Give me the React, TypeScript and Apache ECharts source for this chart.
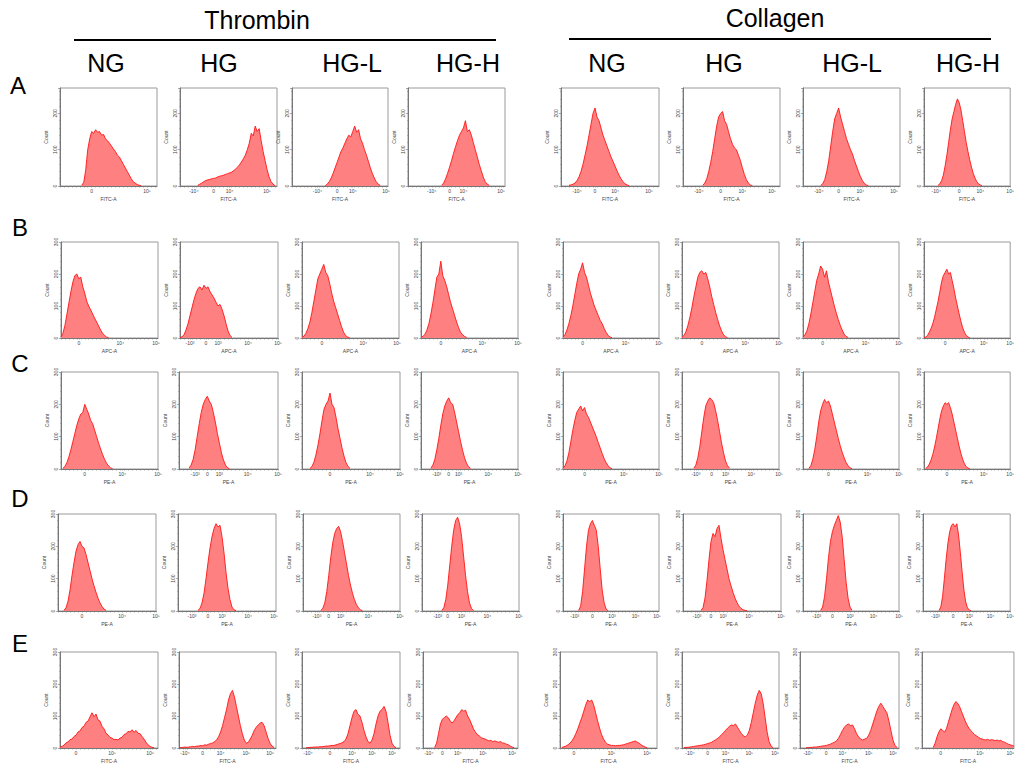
import React, { useEffect, useRef } from "react";
import * as echarts from "echarts";

const GROUPS = ["Thrombin", "Collagen"];
const CONDITIONS = ["NG", "HG", "HG-L", "HG-H"];
const ROW_LETTERS = ["A", "B", "C", "D", "E"];
const CHANNELS = ["FITC-A", "APC-A", "PE-A", "PE-A", "FITC-A"];
const BIN_COUNT = 50;
const Y_MAX = [270, 300, 300, 300, 300];

// histogram counts per panel: [first bin, counts...]
const HIST_A: [number, number[]][] = [
  [11, [2, 10, 45, 100, 130, 150, 145, 155, 148, 150, 140, 142, 130, 125, 118, 110, 102, 95, 85, 80, 70, 60, 50, 40, 30, 20, 12, 8, 4, 2, 1]],
  [9, [2, 5, 8, 12, 15, 17, 18, 20, 21, 22, 25, 27, 28, 30, 32, 34, 36, 38, 42, 46, 52, 58, 66, 75, 85, 100, 118, 145, 138, 165, 150, 158, 125, 95, 70, 45, 25, 12, 5, 1]],
  [17, [1, 5, 12, 22, 35, 50, 65, 80, 95, 105, 118, 130, 140, 135, 150, 165, 148, 155, 130, 118, 100, 85, 68, 50, 35, 22, 12, 5, 2]],
  [17, [2, 8, 20, 35, 52, 70, 90, 108, 125, 140, 150, 160, 180, 150, 155, 140, 120, 100, 80, 60, 42, 25, 12, 5, 2]],
  [4, [2, 3, 5, 8, 15, 25, 40, 60, 85, 110, 140, 170, 200, 215, 190, 180, 160, 140, 125, 110, 95, 80, 68, 55, 42, 30, 20, 12, 6, 3, 1]],
  [10, [2, 8, 20, 40, 65, 95, 130, 165, 190, 200, 205, 180, 170, 150, 130, 115, 105, 100, 85, 70, 50, 32, 18, 8, 3, 1]],
  [9, [2, 6, 18, 40, 70, 110, 150, 185, 200, 215, 190, 170, 150, 130, 115, 100, 88, 70, 55, 40, 26, 15, 7, 3, 1]],
  [8, [2, 6, 15, 30, 55, 85, 120, 155, 185, 205, 225, 240, 230, 210, 180, 150, 120, 95, 72, 52, 35, 22, 12, 6, 3, 1]],
];
const HIST_B: [number, number[]][] = [
  [0, [3, 15, 40, 75, 110, 145, 175, 195, 200, 185, 190, 160, 140, 115, 100, 88, 75, 62, 50, 38, 25, 15, 8, 3, 1]],
  [0, [1, 4, 10, 25, 45, 70, 95, 120, 140, 155, 160, 150, 165, 155, 160, 145, 135, 125, 112, 100, 105, 90, 70, 45, 22, 8, 2]],
  [0, [2, 6, 15, 30, 50, 80, 115, 150, 185, 200, 215, 230, 205, 195, 170, 140, 115, 95, 75, 55, 35, 18, 8, 3, 1]],
  [0, [2, 5, 12, 25, 45, 75, 110, 150, 190, 200, 240, 195, 180, 160, 135, 110, 90, 70, 50, 32, 18, 10, 5, 2]],
  [0, [3, 10, 25, 45, 70, 100, 135, 170, 200, 215, 235, 205, 190, 165, 140, 120, 100, 85, 70, 55, 45, 30, 18, 8, 3, 1]],
  [0, [2, 8, 20, 40, 65, 95, 130, 160, 190, 205, 210, 200, 205, 185, 160, 130, 105, 80, 58, 38, 22, 10, 4, 1]],
  [0, [3, 10, 22, 45, 75, 110, 145, 180, 200, 225, 215, 190, 210, 175, 150, 125, 100, 78, 58, 40, 25, 12, 5, 2]],
  [0, [1, 3, 8, 18, 30, 45, 65, 90, 115, 145, 175, 195, 205, 215, 200, 205, 180, 155, 125, 100, 75, 52, 32, 18, 8, 3, 1]],
];
const HIST_C: [number, number[]][] = [
  [1, [2, 8, 20, 38, 60, 85, 110, 135, 155, 170, 175, 200, 185, 170, 150, 140, 120, 100, 80, 62, 45, 30, 18, 10, 4, 1]],
  [5, [3, 12, 30, 60, 100, 140, 175, 200, 215, 225, 210, 200, 175, 145, 110, 80, 50, 28, 12, 4, 1]],
  [4, [2, 8, 22, 45, 75, 110, 150, 185, 200, 210, 235, 200, 190, 160, 125, 95, 65, 40, 20, 8, 2]],
  [5, [3, 12, 30, 60, 95, 135, 170, 195, 210, 220, 205, 200, 175, 145, 115, 85, 58, 35, 18, 7, 2]],
  [0, [2, 10, 25, 50, 85, 120, 150, 175, 185, 195, 180, 190, 170, 160, 145, 130, 115, 100, 82, 65, 48, 32, 20, 10, 4, 1]],
  [6, [3, 12, 35, 70, 115, 160, 195, 210, 220, 215, 205, 180, 150, 115, 80, 50, 25, 10, 3]],
  [3, [2, 10, 30, 60, 100, 145, 180, 200, 215, 205, 210, 195, 170, 145, 120, 95, 72, 52, 35, 20, 10, 4, 1]],
  [1, [2, 6, 15, 28, 45, 68, 95, 125, 155, 180, 195, 205, 200, 205, 190, 170, 145, 120, 95, 70, 48, 30, 16, 7, 3, 1]],
];
const HIST_D: [number, number[]][] = [
  [3, [2, 10, 30, 65, 110, 150, 185, 205, 215, 200, 195, 175, 150, 125, 100, 78, 58, 40, 25, 14, 6, 2]],
  [10, [2, 8, 25, 55, 100, 150, 195, 230, 255, 270, 260, 265, 230, 180, 120, 70, 35, 12, 4, 1]],
  [9, [2, 8, 25, 60, 110, 165, 210, 240, 255, 262, 245, 215, 180, 145, 110, 80, 55, 35, 20, 10, 4, 1]],
  [10, [2, 10, 35, 80, 140, 200, 250, 280, 290, 270, 230, 170, 110, 60, 25, 8, 2]],
  [8, [2, 15, 60, 130, 200, 250, 270, 280, 265, 250, 200, 130, 65, 25, 6, 1]],
  [9, [2, 10, 40, 95, 160, 215, 240, 230, 255, 265, 225, 190, 160, 130, 100, 78, 58, 40, 26, 15, 8, 4, 2, 1]],
  [9, [2, 12, 45, 100, 165, 215, 245, 265, 280, 295, 275, 230, 160, 90, 40, 12, 3]],
  [9, [2, 12, 45, 100, 160, 210, 245, 265, 270, 260, 270, 235, 180, 120, 65, 28, 10, 3, 1]],
];
const HIST_E: [number, number[]][] = [
  [0, [2, 5, 9, 16, 19, 26, 28, 36, 40, 50, 53, 64, 68, 80, 84, 97, 110, 98, 106, 88, 84, 68, 60, 46, 41, 33, 31, 26, 27, 25, 31, 33, 42, 44, 52, 50, 57, 49, 55, 46, 45, 36, 28, 18, 10, 5, 2, 1]],
  [0, [1, 1, 2, 3, 2, 3, 4, 5, 4, 6, 6, 8, 7, 10, 9, 12, 14, 16, 20, 25, 35, 50, 70, 95, 120, 150, 170, 180, 160, 130, 100, 70, 45, 25, 15, 18, 28, 40, 55, 65, 72, 78, 80, 70, 50, 30, 15, 6, 2]],
  [2, [1, 1, 2, 2, 3, 3, 3, 4, 4, 5, 6, 6, 7, 8, 8, 10, 12, 14, 16, 20, 28, 45, 70, 95, 115, 120, 105, 100, 80, 55, 35, 20, 15, 25, 45, 75, 100, 115, 120, 130, 115, 80, 40, 15, 5, 1]],
  [6, [2, 15, 45, 75, 90, 95, 100, 95, 85, 78, 85, 95, 105, 110, 120, 115, 118, 100, 90, 75, 60, 50, 42, 38, 32, 30, 28, 25, 22, 24, 20, 22, 20, 18, 20, 16, 15, 12, 10, 6, 3, 1]],
  [1, [2, 4, 6, 10, 15, 22, 32, 45, 60, 78, 95, 115, 135, 150, 145, 150, 135, 110, 85, 62, 42, 28, 18, 12, 10, 8, 8, 7, 8, 8, 9, 10, 12, 14, 16, 18, 20, 22, 18, 15, 10, 6, 3, 1]],
  [1, [1, 2, 2, 3, 4, 5, 6, 7, 8, 9, 10, 12, 14, 16, 18, 22, 26, 30, 35, 42, 48, 55, 62, 68, 72, 70, 75, 65, 55, 45, 38, 35, 40, 55, 80, 110, 140, 165, 180, 170, 140, 95, 50, 20, 6, 1]],
  [3, [1, 1, 2, 2, 3, 3, 4, 5, 6, 7, 8, 10, 12, 15, 18, 22, 30, 42, 55, 65, 72, 75, 70, 72, 60, 45, 35, 28, 25, 28, 30, 40, 55, 75, 95, 115, 130, 140, 130, 120, 110, 85, 55, 25, 8, 2]],
  [6, [2, 15, 35, 50, 60, 55, 50, 60, 80, 100, 120, 135, 145, 140, 130, 115, 100, 85, 72, 62, 55, 48, 42, 38, 34, 30, 28, 26, 25, 27, 24, 26, 25, 23, 25, 22, 24, 20, 18, 15, 12, 10, 8, 6]],
];

// x tick labels per panel: [bin, label]
const XLAB_A: [number, string][][] = [
  [[16, "0"], [44, "10⁵"]],
  [[7, "-10⁴"], [17, "0"], [25, "10⁴"], [44, "10⁵"]],
  [[13, "-10⁴"], [23, "0"], [31, "10⁴"], [48, "10⁵"]],
  [[12, "-10⁴"], [21, "0"], [28, "10⁴"], [47, "10⁵"]],
  [[8, "-10⁴"], [17, "0"], [27, "10⁴"], [44, "10⁵"]],
  [[8, "-10⁴"], [19, "0"], [30, "10⁴"], [45, "10⁵"]],
  [[8, "-10⁴"], [18, "0"], [29, "10⁴"], [46, "10⁵"]],
  [[7, "-10⁴"], [20, "0"], [32, "10⁴"], [49, "10⁵"]],
];
const XLAB_B: [number, string][][] = [
  [[9, "0"], [30, "10⁴"], [48, "10⁵"]],
  [[5, "-10³"], [13, "0"], [19, "10³"], [34, "10⁴"], [49, "10⁵"]],
  [[10, "0"], [31, "10⁴"], [48, "10⁵"]],
  [[10, "0"], [31, "10⁴"], [49, "10⁵"]],
  [[10, "0"], [32, "10⁴"], [49, "10⁵"]],
  [[10, "0"], [32, "10⁴"], [49, "10⁵"]],
  [[10, "0"], [32, "10⁴"], [49, "10⁵"]],
  [[12, "0"], [34, "10⁴"], [49, "10⁵"]],
];
const XLAB_C: [number, string][][] = [
  [[12, "0"], [31, "10⁴"], [49, "10⁵"]],
  [[8, "-10³"], [14, "0"], [20, "10³"], [34, "10⁴"], [49, "10⁵"]],
  [[14, "0"], [34, "10⁴"], [49, "10⁵"]],
  [[8, "-10³"], [14, "0"], [19, "10³"], [34, "10⁴"], [49, "10⁵"]],
  [[11, "0"], [31, "10⁴"], [49, "10⁵"]],
  [[7, "-10³"], [15, "0"], [22, "10³"], [35, "10⁴"], [49, "10⁵"]],
  [[13, "0"], [33, "10⁴"], [49, "10⁵"]],
  [[13, "0"], [34, "10⁴"], [49, "10⁵"]],
];
const XLAB_D: [number, string][][] = [
  [[12, "0"], [32, "10⁴"], [49, "10⁵"]],
  [[7, "-10³"], [15, "0"], [22, "10³"], [35, "10⁴"], [48, "10⁵"]],
  [[7, "-10³"], [13, "0"], [19, "10³"], [33, "10⁴"], [49, "10⁵"]],
  [[8, "-10³"], [13, "0"], [20, "10³"], [33, "10⁴"], [49, "10⁵"]],
  [[6, "-10³"], [15, "0"], [25, "10³"], [37, "10⁴"], [48, "10⁵"]],
  [[7, "-10³"], [14, "0"], [20, "10³"], [33, "10⁴"], [49, "10⁵"]],
  [[7, "-10³"], [15, "0"], [24, "10³"], [36, "10⁴"], [49, "10⁵"]],
  [[7, "-10³"], [17, "0"], [26, "10³"], [38, "10⁴"], [49, "10⁵"]],
];
const XLAB_E: [number, string][][] = [
  [[8, "0"], [26, "10⁵"], [45, "10⁶"]],
  [[3, "-10⁴"], [12, "0"], [21, "10⁴"], [34, "10⁵"], [46, "10⁶"]],
  [[3, "-10⁴"], [14, "0"], [25, "10⁴"], [35, "10⁵"], [45, "10⁶"]],
  [[3, "-10⁴"], [10, "0"], [18, "10⁴"], [31, "10⁵"], [46, "10⁶"]],
  [[7, "0"], [26, "10⁵"], [44, "10⁶"]],
  [[4, "-10⁴"], [13, "0"], [22, "10⁴"], [34, "10⁵"], [47, "10⁶"]],
  [[4, "-10⁴"], [13, "0"], [21, "10⁴"], [34, "10⁵"], [46, "10⁶"]],
  [[10, "0"], [31, "10⁵"], [47, "10⁶"]],
];

// layout (pixels)
const ROW_BOX = [[88, 186], [242, 338], [372, 469], [514, 611], [652, 748]];
const COL_BOX = [
  [[60, 157], [180, 277], [292, 388], [408, 505], [561, 659], [683, 780], [803, 900], [924, 1014]],
  [[61, 158], [180, 278], [302, 399], [421, 518], [563, 659], [682, 779], [803, 899], [924, 1014]],
  [[61, 158], [179, 278], [302, 400], [421, 518], [563, 659], [682, 779], [803, 899], [924, 1014]],
  [[58, 156], [178, 276], [303, 400], [422, 519], [563, 659], [683, 781], [803, 899], [923, 1014]],
  [[60, 158], [179, 276], [302, 400], [423, 518], [560, 657], [682, 779], [800, 899], [922, 1014]],
];
const HEADER_X = [106, 219, 352, 468, 607, 724, 852, 968];
const GROUP_POS = [[257, 20, 74, 496, 40], [775, 18, 569, 991, 39]];
const LETTER_POS = [[18, 85], [20, 227], [20, 363], [20, 498], [20, 643]];

const HISTS = [HIST_A, HIST_B, HIST_C, HIST_D, HIST_E];
const XLABS = [XLAB_A, XLAB_B, XLAB_C, XLAB_D, XLAB_E];
const FONT = '"Liberation Sans", Arial, sans-serif';

function buildOption() {
  const bins = Array.from({ length: BIN_COUNT }, (_, i) => String(i));
  const grid: any[] = [];
  const xAxis: any[] = [];
  const yAxis: any[] = [];
  const series: any[] = [];
  HISTS.forEach((row, r) => {
    row.forEach(([start, counts], c) => {
      const k = grid.length;
      const [l, rgt] = COL_BOX[r][c];
      const [t, b] = ROW_BOX[r];
      grid.push({ left: l, top: t, width: rgt - l, height: b - t, show: true, borderColor: "#9a9a9a", borderWidth: 1, containLabel: false });
      const labMap = new Map<number, string>(XLABS[r][c]);
      xAxis.push({
        type: "category", gridIndex: k, data: bins, boundaryGap: false,
        axisLine: { lineStyle: { color: "#777", width: 1 } },
        axisTick: { show: true, length: 1.5, interval: (i: number) => i % 2 === 0 || labMap.has(i), lineStyle: { color: "#777", width: 0.6 } },
        axisLabel: { interval: (i: number) => labMap.has(i), formatter: (_v: string, i: number) => labMap.get(i) ?? "", fontSize: 5, color: "#444", margin: 2, fontFamily: FONT },
        splitLine: { show: false },
        name: CHANNELS[r], nameLocation: "middle", nameGap: 10, nameTextStyle: { fontSize: 5, color: "#444", fontFamily: FONT },
      });
      yAxis.push({
        type: "value", gridIndex: k, min: 0, max: Y_MAX[r], interval: 100,
        axisLine: { show: true, lineStyle: { color: "#777", width: 1 } },
        axisTick: { show: true, length: 2, lineStyle: { color: "#777", width: 0.6 } },
        minorTick: { show: true, splitNumber: 5, length: 1, lineStyle: { color: "#888", width: 0.5 } },
        axisLabel: { rotate: 90, fontSize: 5, color: "#444", margin: 3, fontFamily: FONT, showMaxLabel: Y_MAX[r] % 100 === 0 },
        splitLine: { show: false },
        name: "Count", nameLocation: "middle", nameRotate: 90, nameGap: 12, nameTextStyle: { fontSize: 5, color: "#444", fontFamily: FONT },
      });
      const data: (number | null)[] = bins.map(() => null);
      counts.forEach((v, i) => { data[start + i] = v; });
      series.push({
        type: "line", xAxisIndex: k, yAxisIndex: k, data, symbol: "none", silent: true,
        lineStyle: { color: "#ff1414", width: 0.9 },
        areaStyle: { color: "#ff8080", opacity: 1 },
      });
    });
  });

  const graphic: any[] = [];
  GROUPS.forEach((g, i) => {
    const [cx, cy, x1, x2, ly] = GROUP_POS[i];
    graphic.push({ type: "text", x: cx, y: cy, style: { text: g, fill: "#000", fontSize: 25, fontFamily: FONT, align: "center", verticalAlign: "middle" } });
    graphic.push({ type: "line", shape: { x1, y1: ly, x2, y2: ly }, style: { stroke: "#000", lineWidth: 2 } });
  });
  HEADER_X.forEach((x, i) => {
    graphic.push({ type: "text", x, y: 63, style: { text: CONDITIONS[i % 4], fill: "#000", fontSize: 25, fontFamily: FONT, align: "center", verticalAlign: "middle" } });
  });
  ROW_LETTERS.forEach((L, i) => {
    const [x, y] = LETTER_POS[i];
    graphic.push({ type: "text", x, y, style: { text: L, fill: "#000", fontSize: 24, fontFamily: FONT, align: "center", verticalAlign: "middle" } });
  });

  return { animation: false, backgroundColor: "#fff", grid, xAxis, yAxis, series, graphic };
}

export default function App() {
  const ref = useRef<HTMLDivElement>(null);
  useEffect(() => {
    const chart = echarts.init(ref.current!, null, { renderer: "svg", width: 1017, height: 764 });
    chart.setOption(buildOption() as any);
    return () => chart.dispose();
  }, []);
  return <div ref={ref} style={{ position: "fixed", left: 0, top: 0, width: 1017, height: 764, background: "#fff" }} />;
}
